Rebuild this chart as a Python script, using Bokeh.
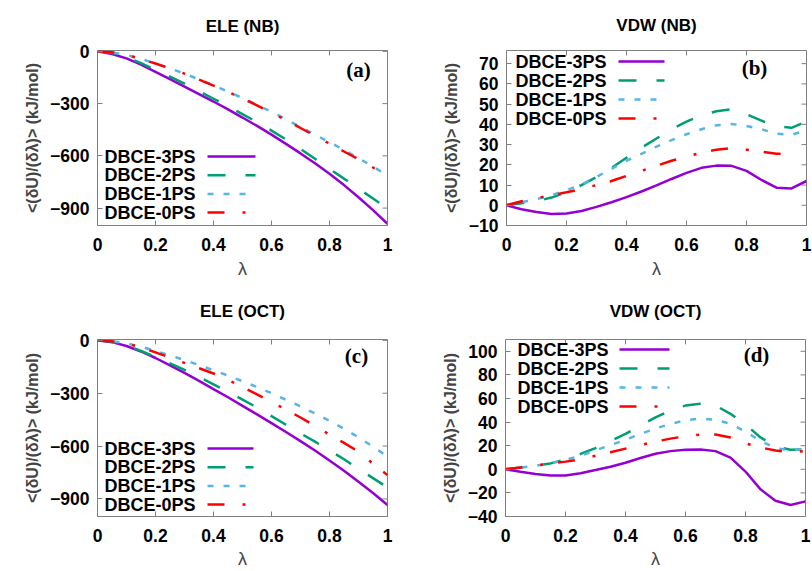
from bokeh.plotting import figure
from bokeh.models import Range1d, FixedTicker, Label, Arrow, LinearAxis
from bokeh.layouts import column, row
from bokeh.embed import file_html
from bokeh.resources import INLINE

# ---------------- data ----------------
lam = [0.0, 0.05, 0.1, 0.15, 0.2, 0.25, 0.3, 0.35, 0.4, 0.45, 0.5,
       0.55, 0.6, 0.65, 0.7, 0.75, 0.8, 0.85, 0.9, 0.95, 1.0]

series_names = ["DBCE-3PS", "DBCE-2PS", "DBCE-1PS", "DBCE-0PS"]

# (a) ELE (NB)
ele_nb_3ps = [0, -15, -40, -76, -118, -160, -202, -245, -288, -333, -380,
              -428, -478, -531, -586, -643, -703, -768, -838, -912, -990]
ele_nb_2ps = [0, -10, -33, -68, -106, -145, -185, -228, -272, -316, -360,
              -407, -455, -506, -560, -617, -675, -731, -788, -845, -902]
ele_nb_1ps = [0, -6, -20, -43, -70, -98, -128, -161, -195, -231, -268,
              -307, -348, -390, -434, -478, -522, -566, -613, -662, -712]
ele_nb_0ps = [0, -5, -20, -44, -70, -98, -128, -162, -197, -232, -270,
              -310, -352, -395, -440, -485, -530, -575, -620, -667, -715]

# (b) VDW (NB)
vdw_nb_3ps = [0, -2, -3.3, -4.3, -4.1, -2.8, -0.8, 1.5, 4, 6.8, 9.8,
              13, 16, 18.5, 19.6, 19.5, 17, 12.5, 8.7, 8.3, 12]
vdw_nb_2ps = [0, 1, 2, 3.8, 6.5, 10, 14, 18.5, 23.5, 28.5, 33,
              37.5, 41.3, 44.5, 46.5, 47.5, 45, 41.8, 39, 38.3, 41.5]
vdw_nb_1ps = [0, 1.5, 3, 5, 7.5, 10.2, 14, 18, 22, 25.4, 29,
              32.2, 35.1, 37.6, 39.5, 40.2, 39.2, 37.6, 35.4, 34.8, 37.1]
vdw_nb_0ps = [0, 2, 3.5, 5, 6.4, 8, 10, 12, 14.5, 17, 19.5,
              22, 24, 26, 27.5, 28.2, 27.5, 26.5, 25.5, 25.5, float("nan")]

# (c) ELE (OCT)
ele_oct_3ps = [0, -10, -32, -63, -100, -142, -185, -230, -277, -323, -372,
               -420, -470, -520, -572, -625, -682, -740, -803, -867, -935]
ele_oct_2ps = [0, -8, -30, -60, -95, -130, -168, -208, -250, -293, -336,
               -381, -430, -479, -528, -575, -625, -675, -730, -782, -835]
ele_oct_1ps = [0, -5, -17, -36, -60, -85, -112, -140, -170, -200, -232,
               -265, -300, -337, -375, -415, -457, -502, -550, -603, -660]
ele_oct_0ps = [0, -5, -18, -40, -68, -98, -128, -158, -188, -225, -265,
               -307, -350, -393, -438, -485, -535, -582, -632, -700, -765]

# (d) VDW (OCT)
vdw_oct_3ps = [0, -2, -3.9, -5.2, -5.2, -3.3, -0.6, 2.2, 5.5, 9.6, 13.2,
               15.4, 16.5, 16.8, 15.4, 9.9, -1.9, -17, -26.7, -30.3, -27.2]
vdw_oct_2ps = [0, 1.5, 3, 5, 8.5, 13, 18, 24, 30, 37, 44,
               50, 54, 55.5, 54, 47, 38, 27, 19.5, 16.5, 17]
vdw_oct_1ps = [0, 1.5, 3, 5, 8, 11.5, 16, 20.5, 25, 30, 34.5,
               38.5, 41.5, 43, 42, 38.5, 32, 24, 18, 16, 17]
vdw_oct_0ps = [0, 1.5, 3, 5, 6.5, 8.5, 11.5, 14.5, 17.5, 20.5, 23.5,
               26, 28, 29.5, 29.5, 27, 22, 18.5, 16, 14.5, 15.5]

x_ticks = [0, 0.2, 0.4, 0.6, 0.8, 1.0]
x_tick_labels = ["0", "0.2", "0.4", "0.6", "0.8", "1"]
ele_ticks = [0, -300, -600, -900]
vdw_nb_ticks = [-10, 0, 10, 20, 30, 40, 50, 60, 70]
vdw_oct_ticks = [-40, -20, 0, 20, 40, 60, 80, 100]

# ---------------- style ----------------
COLORS = ["#9400D3", "#009E73", "#56B4E9", "#FF0000"]
DASHES = ["solid", "18 20", "6 10", "17 18 3 15"]
GRAY = "#808080"
FONT = "Liberation Sans"
YLABEL = "<(\u03b4U)/(\u03b4\u03bb)> (kJ/mol)"
TICK_LEN = 5


def make_panel(title, ys, y_start, y_end, yticks, tag, width, height,
               mb_left, mb_right, mb_top, mb_bottom, title_standoff, xlab_standoff,
               leg_text_x, leg_x0, leg_x1, leg_rows, tag_x, tag_y):
    frame_w = width - mb_left - mb_right
    frame_h = height - mb_top - mb_bottom
    p = figure(width=width, height=height, output_backend="svg",
               toolbar_location=None, title=None,
               x_range=Range1d(0, 1), y_range=Range1d(y_start, y_end),
               min_border_left=mb_left, min_border_right=mb_right,
               min_border_top=mb_top, min_border_bottom=mb_bottom)
    p.grid.visible = False
    p.outline_line_color = GRAY
    p.outline_line_width = 1
    p.background_fill_color = "white"
    p.border_fill_color = "white"

    for ax, tk in ((p.xaxis[0], x_ticks), (p.yaxis[0], yticks)):
        ax.ticker = FixedTicker(ticks=tk)
        ax.axis_line_color = None
        ax.major_tick_in = TICK_LEN
        ax.major_tick_out = 0
        ax.major_tick_line_color = GRAY
        ax.minor_tick_line_color = None
        ax.major_label_text_font = FONT
        ax.major_label_text_font_style = "bold"
        ax.major_label_text_font_size = "17.5px"
        ax.major_label_text_color = "#000000"
    p.xaxis[0].major_label_overrides = {t: s for t, s in zip(x_ticks, x_tick_labels)}
    p.xaxis[0].major_label_standoff = 12
    p.yaxis[0].major_label_standoff = 8
    p.xaxis[0].axis_label = "\u03bb"
    p.xaxis[0].axis_label_text_font = FONT
    p.xaxis[0].axis_label_text_font_style = "normal"
    p.xaxis[0].axis_label_text_font_size = "18px"
    p.xaxis[0].axis_label_standoff = xlab_standoff
    p.yaxis[0].axis_label = YLABEL
    p.yaxis[0].axis_label_text_font = FONT
    p.yaxis[0].axis_label_text_font_style = "bold"
    p.yaxis[0].axis_label_text_font_size = "16px"
    p.yaxis[0].axis_label_standoff = 6

    # panel title as the label of a tick-less axis above the frame
    top = LinearAxis(ticker=FixedTicker(ticks=[]), axis_line_color=None,
                     major_tick_line_color=None, minor_tick_line_color=None,
                     axis_label=title, axis_label_text_font=FONT,
                     axis_label_text_font_style="bold", axis_label_text_font_size="17px",
                     axis_label_text_color="#000000", axis_label_standoff=title_standoff)
    p.add_layout(top, "above")

    # mirrored tick marks on the right and top edges of the frame
    dx = TICK_LEN * (1 - 0) / frame_w
    dy = TICK_LEN * (y_end - y_start) / frame_h
    p.segment(x0=[1] * len(yticks), y0=yticks, x1=[1 - dx] * len(yticks), y1=yticks,
              line_color=GRAY, line_width=1)
    p.segment(x0=x_ticks, y0=[y_end] * len(x_ticks), x1=x_ticks,
              y1=[y_end - dy] * len(x_ticks), line_color=GRAY, line_width=1)

    for name, y, c, d in zip(series_names, ys, COLORS, DASHES):
        p.line(lam, y, line_color=c, line_width=2.5, line_dash=d)

    # gnuplot-style key: text, then sample line to its right
    for i, (name, c, d) in enumerate(zip(series_names, COLORS, DASHES)):
        yy = leg_rows[i]
        p.add_layout(Label(x=leg_text_x, y=yy, x_units="screen", y_units="screen",
                           text=name, text_font=FONT, text_font_style="bold",
                           text_font_size="18px", text_align="right",
                           text_baseline="middle", text_color="#000000"))
        p.add_layout(Arrow(end=None, x_start=leg_x0, y_start=yy, x_end=leg_x1, y_end=yy,
                           start_units="screen", end_units="screen",
                           line_color=c, line_width=2.5, line_dash=d))

    p.add_layout(Label(x=tag_x, y=tag_y, x_units="screen", y_units="screen",
                       text=tag, text_font="Liberation Serif", text_font_style="bold",
                       text_font_size="21px", text_align="center",
                       text_baseline="middle", text_color="#000000"))
    return p


pa = make_panel("ELE (NB)", [ele_nb_3ps, ele_nb_2ps, ele_nb_1ps, ele_nb_0ps],
                -1000, 5, ele_ticks, "(a)", 406, 285, 97, 19, 50, 60, 15, 5,
                98, 110, 158, [69, 50.3, 31.6, 13], 261, 156)
pb = make_panel("VDW (NB)", [vdw_nb_3ps, vdw_nb_2ps, vdw_nb_1ps, vdw_nb_0ps],
                -10, 76.5, vdw_nb_ticks, "(b)", 406, 285, 100, 6, 50, 59, 16, 5,
                100, 112, 158, [164, 145, 126, 107], 248, 158)
pc = make_panel("ELE (OCT)", [ele_oct_3ps, ele_oct_2ps, ele_oct_1ps, ele_oct_0ps],
                -1000, 5, ele_ticks, "(c)", 406, 286, 97, 19, 54, 55, 19, 4,
                98, 110, 156, [68, 49.3, 30.6, 12], 259, 161)
pd = make_panel("VDW (OCT)", [vdw_oct_3ps, vdw_oct_2ps, vdw_oct_1ps, vdw_oct_0ps],
                -40, 110, vdw_oct_ticks, "(d)", 406, 286, 99, 7, 51, 54, 19, 4,
                103, 114, 164, [167, 148, 129, 110], 251, 162)

layout = column(row(pa, pb), row(pc, pd))
open("out.html", "w").write(file_html(layout, INLINE))
